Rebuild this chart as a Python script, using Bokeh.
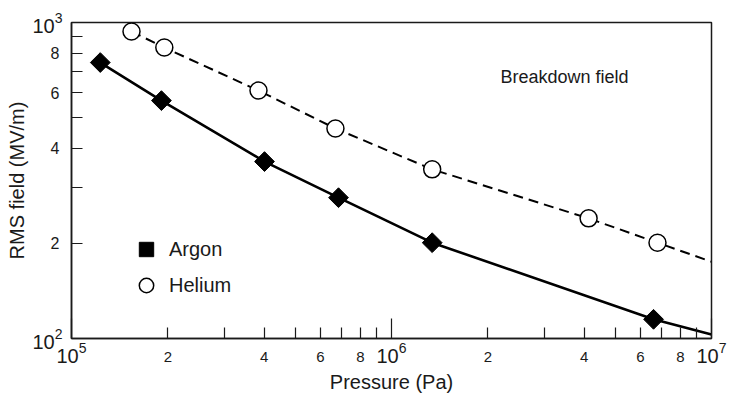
import math
from bokeh.plotting import figure
from bokeh.models import (FixedTicker, Label, Legend, LegendItem, LogAxis,
                          LogTickFormatter, CustomJSTickFormatter)
from bokeh.embed import file_html
from bokeh.resources import INLINE

# ---------------- data ----------------
argon_p = [1.23e5, 1.91e5, 4.01e5, 6.83e5, 1.34e6, 6.59e6]
argon_e = [747, 566, 363, 279, 201, 115]
argon_line_p = argon_p + [1.0e7]
argon_line_e = argon_e + [103]

helium_p = [1.54e5, 1.95e5, 3.84e5, 6.68e5, 1.34e6, 4.13e6, 6.78e6]
helium_e = [937, 833, 609, 462, 343, 240, 201]
helium_line_p = helium_p + [1.0e7]
helium_line_e = helium_e + [175]

x_decades = [1e5, 1e6, 1e7]
x_minor_ticks = [2e5, 3e5, 4e5, 5e5, 6e5, 7e5, 8e5, 9e5,
                 2e6, 3e6, 4e6, 5e6, 6e6, 7e6, 8e6, 9e6]
x_minor_label_pos = [2e5, 4e5, 6e5, 8e5, 2e6, 4e6, 6e6, 8e6]
x_minor_labels = ["2", "4", "6", "8", "2", "4", "6", "8"]

y_decades = [100, 1000]
y_minor_ticks = [200, 300, 400, 500, 600, 700, 800, 900]
y_minor_label_pos = [200, 400, 600, 800]
y_minor_labels = ["2", "4", "6", "8"]

FONT = "Liberation Sans"
INK = "#1a1a1a"

p = figure(x_axis_type="log", y_axis_type="log",
           x_range=(1e5, 1e7), y_range=(100, 1000),
           frame_width=640, frame_height=316,
           min_border_left=71, min_border_right=22,
           min_border_top=22, min_border_bottom=57,
           output_backend="svg", toolbar_location=None)
p.grid.visible = False
p.background_fill_color = "white"
p.border_fill_color = "white"
p.outline_line_color = INK
p.outline_line_width = 1.5

xa = p.xaxis[0]
ya = p.yaxis[0]
xa.ticker = FixedTicker(ticks=x_decades, minor_ticks=x_minor_ticks)
ya.ticker = FixedTicker(ticks=y_decades, minor_ticks=y_minor_ticks)
for ax in (xa, ya):
    ax.formatter = LogTickFormatter()
    ax.major_label_text_font = FONT
    ax.major_label_text_font_size = "20px"
    ax.major_label_text_color = INK
    ax.axis_line_color = INK
    ax.axis_line_width = 1.5
    ax.major_tick_line_color = INK
    ax.minor_tick_line_color = INK
    ax.major_tick_line_width = 1.2
    ax.minor_tick_line_width = 1.2
    ax.major_tick_out = 0
    ax.minor_tick_out = 0
xa.major_tick_in = 20
xa.minor_tick_in = 11
xa.major_label_standoff = 3
ya.major_tick_in = 11
ya.minor_tick_in = 11
ya.major_label_standoff = 9


# secondary axes (stacked outside the main ones) carry the mantissa
# labels, pulled back under the main axis with a negative standoff
def minor_axis(pos, labels, size, standoff, title, title_standoff):
    fmt = CustomJSTickFormatter(
        args=dict(pos=pos, labels=labels),
        code="const i = pos.indexOf(tick); return i >= 0 ? labels[i] : '';")
    return LogAxis(ticker=FixedTicker(ticks=pos, minor_ticks=[]),
                   formatter=fmt,
                   axis_line_color=None, major_tick_line_color=None,
                   minor_tick_line_color=None, major_tick_out=0,
                   major_tick_in=0, minor_tick_out=0, minor_tick_in=0,
                   major_label_standoff=standoff,
                   major_label_text_font=FONT,
                   major_label_text_font_size=size,
                   major_label_text_color=INK,
                   axis_label=title, axis_label_standoff=title_standoff,
                   axis_label_text_font=FONT,
                   axis_label_text_font_size="20px",
                   axis_label_text_font_style="normal",
                   axis_label_text_color=INK)

p.add_layout(minor_axis(x_minor_label_pos, x_minor_labels, "15px", -14,
                        "Pressure (Pa)", 6), "below")
p.add_layout(minor_axis(y_minor_label_pos, y_minor_labels, "16px", -30,
                        "RMS field (MV/m)", 20), "left")

# lines
p.line(argon_line_p, argon_line_e, line_color="black", line_width=2.6)
p.line(helium_line_p, helium_line_e, line_color="black", line_width=2,
       line_dash="10 6")

r_ar = p.scatter(argon_p, argon_e, marker="square", angle=math.pi / 4,
                 size=14, fill_color="black", line_color="black")
r_he = p.scatter(helium_p, helium_e, marker="circle", size=17,
                 fill_color="white", line_color="black", line_width=1.5)

legend = Legend(items=[LegendItem(label="Argon", renderers=[r_ar]),
                       LegendItem(label="Helium", renderers=[r_he])],
                location=(53, 35), glyph_width=44, glyph_height=36,
                label_height=36, spacing=0, padding=0, margin=0,
                label_standoff=1, border_line_color=None,
                background_fill_alpha=0, label_text_font=FONT,
                label_text_font_size="20px", label_text_color=INK)
p.add_layout(legend)

p.add_layout(Label(x=2.19e6, y=670, text="Breakdown field", text_font=FONT,
                   text_font_size="18px", text_align="left",
                   text_baseline="middle", text_color=INK))

open("out.html", "w").write(file_html(p, INLINE))
